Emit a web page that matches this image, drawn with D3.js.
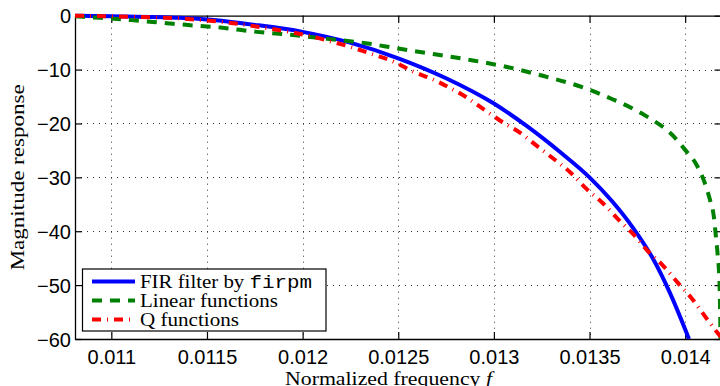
<!DOCTYPE html>
<html>
<head>
<meta charset="utf-8">
<script src="https://cdn.jsdelivr.net/npm/d3@7"></script>
<style>
  body { margin: 0; background: #fff; }
  svg { display: block; }
</style>
</head>
<body>
<div id="chart"></div>
<script>
// FIR filter by firpm
const firFreq = [0.01081, 0.011, 0.011359, 0.0115, 0.011751, 0.012, 0.012248, 0.0125, 0.01275, 0.013, 0.013173, 0.013346, 0.0135, 0.013617, 0.013732, 0.013827, 0.013921, 0.01402];
const firMag  = [0, -0.1, -0.4, -0.7, -1.7, -3.0, -5.0, -7.9, -11.6, -16.3, -20.5, -25.3, -30, -34.4, -39.6, -44.8, -51.5, -60];

// Linear functions
const linFreq = [0.01081, 0.01094, 0.01103, 0.01113, 0.01129, 0.01139, 0.01157, 0.01176, 0.01195, 0.01213, 0.01233, 0.0125, 0.0127, 0.01289, 0.01308, 0.01326, 0.01344, 0.01362, 0.01379, 0.01394, 0.0140, 0.01406, 0.0141, 0.01413, 0.01415, 0.01416, 0.01417, 0.01418, 0.014185];
const linMag  = [-0.1, -0.4, -0.6, -0.9, -1.4, -1.7, -2.2, -3.0, -3.6, -4.3, -5.1, -6.1, -7.2, -8.3, -9.6, -11.2, -13.0, -15.5, -18.5, -22.4, -24.9, -27.7, -30.8, -34.2, -37.3, -40.7, -44.4, -50, -60];

// Q functions
const qFreq = [0.01081, 0.011, 0.01115, 0.01136, 0.01147, 0.01159, 0.0117, 0.01181, 0.01193, 0.01204, 0.01215, 0.01226, 0.01237, 0.01248, 0.01258, 0.01268, 0.01276, 0.01285, 0.01294, 0.01303, 0.01314, 0.01323, 0.01331, 0.0134, 0.01348, 0.01357, 0.01365, 0.01373, 0.0138, 0.01389, 0.01396, 0.01404, 0.01411, 0.01417, 0.014195];
const qMag  = [0, -0.1, -0.25, -0.5, -0.8, -1.2, -1.7, -2.3, -3.0, -3.8, -4.8, -5.9, -7.2, -8.6, -10.4, -11.8, -13.2, -15.0, -17.2, -19.4, -21.8, -24.3, -26.5, -29.1, -32.0, -34.8, -37.8, -40.6, -43.5, -46.6, -49.5, -52.7, -56.1, -58.9, -60];

const xTicks = [0.011, 0.0115, 0.012, 0.0125, 0.013, 0.0135, 0.014];
const xTickLabels = ['0.011', '0.0115', '0.012', '0.0125', '0.013', '0.0135', '0.014'];
const yTicks = [0, -10, -20, -30, -40, -50, -60];
const yTickLabels = ['0', '\u221210', '\u221220', '\u221230', '\u221240', '\u221250', '\u221260'];

const legendNames = ['FIR filter by ', 'Linear functions', 'Q functions'];

// layout
const width = 720, height = 386;
const plot = {left: 75, top: 15.7, right: 721.5, bottom: 339};

const svg = d3.select('#chart').append('svg')
  .attr('width', width)
  .attr('height', height);

const x = d3.scaleLinear().domain([0.01081, 0.01419]).range([plot.left, plot.right]);
const y = d3.scaleLinear().domain([-60, 0]).range([plot.bottom, plot.top]);

// grid
const grid = svg.append('g')
  .attr('stroke', '#333')
  .attr('stroke-width', 1)
  .attr('stroke-dasharray', '1,5');
grid.selectAll('.vg').data(xTicks).join('line')
  .attr('x1', d => Math.round(x(d)) + 0.5).attr('x2', d => Math.round(x(d)) + 0.5)
  .attr('y1', plot.top).attr('y2', plot.bottom);
grid.selectAll('.hg').data(yTicks.slice(1, -1)).join('line')
  .attr('y1', d => Math.round(y(d)) + 0.5).attr('y2', d => Math.round(y(d)) + 0.5)
  .attr('x1', plot.left).attr('x2', plot.right);

// axes with inward ticks
const tickFont = '"Liberation Sans", Arial, sans-serif';
svg.append('g')
  .attr('transform', 'translate(0,' + plot.bottom + ')')
  .call(d3.axisBottom(x).tickValues(xTicks).tickFormat((d, i) => xTickLabels[i])
    .tickSizeInner(-7).tickSizeOuter(0).tickPadding(11));
const leftAxis = svg.append('g')
  .attr('transform', 'translate(' + plot.left + ',0)')
  .call(d3.axisLeft(y).tickValues(yTicks).tickFormat((d, i) => yTickLabels[i])
    .tickSizeInner(-7).tickSizeOuter(0).tickPadding(4));
svg.append('g')
  .attr('transform', 'translate(0,' + plot.top + ')')
  .call(d3.axisTop(x).tickValues(xTicks).tickFormat('').tickSizeInner(-7).tickSizeOuter(0));
svg.append('g')
  .attr('transform', 'translate(' + plot.right + ',0)')
  .call(d3.axisRight(y).tickValues(yTicks).tickFormat('').tickSizeInner(-7).tickSizeOuter(0));

svg.selectAll('.domain').attr('stroke', '#000').attr('stroke-width', 1.3);
svg.selectAll('.tick line').attr('stroke', '#000').attr('stroke-width', 1.2);
svg.selectAll('.tick text')
  .attr('font-family', tickFont)
  .attr('font-size', 20)
  .attr('fill', '#000');
leftAxis.selectAll('.tick text').attr('dy', '0.36em');

// curves
svg.append('defs').append('clipPath').attr('id', 'clip')
  .append('rect')
  .attr('x', plot.left).attr('y', plot.top - 3)
  .attr('width', plot.right - plot.left).attr('height', plot.bottom - plot.top + 3);

const line = d3.line()
  .x(d => x(d[0]))
  .y(d => y(d[1]))
  .curve(d3.curveMonotoneX);

const series = [
  {f: firFreq, m: firMag, color: '#0000ff', dash: null},
  {f: linFreq, m: linMag, color: '#008000', dash: '10,8'},
  {f: qFreq, m: qMag, color: '#ff0000', dash: '9,6,1,6'}
];

const curves = svg.append('g').attr('clip-path', 'url(#clip)');
series.forEach(s => {
  curves.append('path')
    .datum(d3.zip(s.f, s.m))
    .attr('fill', 'none')
    .attr('stroke', s.color)
    .attr('stroke-width', 4)
    .attr('stroke-dasharray', s.dash)
    .attr('d', line);
});

// legend
const serif = '"Liberation Serif", "Times New Roman", serif';
const legendWidths = [172, 138, 99];
const legend = svg.append('g');
legend.append('rect')
  .attr('x', 82.5).attr('y', 269)
  .attr('width', 243.5).attr('height', 62)
  .attr('fill', '#fff')
  .attr('stroke', '#000')
  .attr('stroke-width', 1.2);

series.forEach((s, i) => {
  const ly = 281.5 + i * 19;
  legend.append('line')
    .attr('x1', 92).attr('x2', 135)
    .attr('y1', ly).attr('y2', ly)
    .attr('stroke', s.color)
    .attr('stroke-width', 4)
    .attr('stroke-dasharray', s.dash);
  const t = legend.append('text')
    .attr('x', 140).attr('y', ly + 6)
    .attr('font-family', serif)
    .attr('font-size', 18.5)
    .attr('textLength', legendWidths[i])
    .attr('lengthAdjust', 'spacingAndGlyphs')
    .text(legendNames[i]);
  if (i === 0) {
    t.append('tspan')
      .attr('font-family', '"Liberation Mono", "DejaVu Sans Mono", monospace')
      .text('firpm');
  }
});

// axis labels
svg.append('text')
  .attr('x', 285)
  .attr('y', 384.5)
  .attr('font-family', serif)
  .attr('font-size', 18.5)
  .attr('textLength', 207)
  .attr('lengthAdjust', 'spacingAndGlyphs')
  .text('Normalized frequency  ')
  .append('tspan')
  .attr('font-style', 'italic')
  .text('f');

svg.append('text')
  .attr('transform', 'translate(23.5,' + ((plot.top + plot.bottom) / 2) + ') rotate(-90)')
  .attr('x', -93)
  .attr('font-family', serif)
  .attr('font-size', 18.5)
  .attr('textLength', 186)
  .attr('lengthAdjust', 'spacingAndGlyphs')
  .text('Magnitude response');
</script>
</body>
</html>
